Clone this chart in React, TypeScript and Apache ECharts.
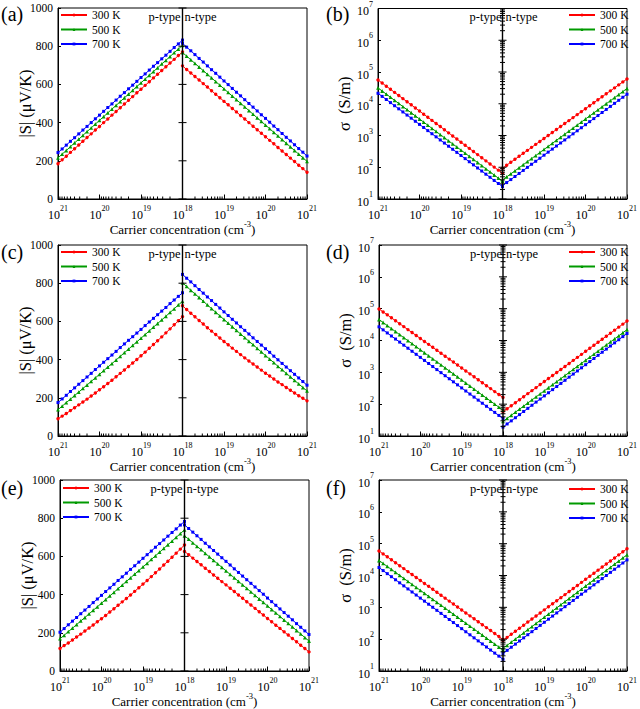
import React, { useEffect, useRef } from "react";
import * as echarts from "echarts";

const FONT = "Liberation Serif";

// log10 of carrier concentration (cm^-3) for every sampled point
const logConc = [18.0, 18.1, 18.2, 18.3, 18.4, 18.5, 18.6, 18.7, 18.8, 18.9, 19.0, 19.1, 19.2, 19.3, 19.4, 19.5, 19.6, 19.7, 19.8, 19.9, 20.0, 20.1, 20.2, 20.3, 20.4, 20.5, 20.6, 20.7, 20.8, 20.9, 21.0];
const xTickExponents = [21, 20, 19, 18, 19, 20, 21];
const sTicks = [0, 200, 400, 600, 800, 1000];
const sigmaTicks = [1e1, 1e2, 1e3, 1e4, 1e5, 1e6, 1e7];
const temps = ["300 K", "500 K", "700 K"];
const colors = ["#FF0000", "#009A00", "#0000FF"];
const symbols = ["circle", "triangle", "rect"];
const symbolSizes = [3.4, 3.8, 3];

// ---- Seebeck |S| (uV/K) ----
const sA_p300 = [770, 751, 731, 712, 692, 673, 653, 634, 614, 595, 575, 556, 536, 517, 497, 478, 458, 439, 419, 400, 380, 361, 341, 322, 302, 283, 263, 244, 224, 205, 185];
const sA_p500 = [805, 785, 766, 746, 726, 707, 687, 667, 648, 628, 608, 589, 569, 549, 530, 510, 490, 471, 451, 431, 412, 392, 372, 353, 333, 313, 294, 274, 254, 235, 215];
const sA_p700 = [832, 812, 793, 773, 753, 734, 714, 695, 675, 655, 636, 616, 596, 577, 557, 538, 518, 498, 479, 459, 439, 420, 400, 380, 361, 341, 321, 302, 282, 262, 243];
const sA_n300 = [697, 678, 660, 641, 623, 604, 586, 567, 548, 530, 511, 493, 474, 456, 437, 419, 400, 381, 363, 344, 326, 307, 289, 270, 251, 233, 214, 196, 177, 159, 140];
const sA_n500 = [767, 748, 729, 710, 691, 672, 653, 634, 615, 596, 577, 558, 539, 520, 501, 482, 463, 444, 425, 406, 387, 368, 349, 330, 311, 292, 273, 254, 235, 216, 197];
const sA_n700 = [815, 795, 776, 756, 736, 717, 697, 677, 658, 638, 618, 599, 579, 559, 540, 520, 500, 481, 461, 441, 422, 402, 382, 363, 343, 323, 304, 284, 264, 245, 225];

const sC_p300 = [625, 603, 582, 561, 540, 519, 499, 479, 459, 439, 420, 401, 382, 364, 346, 328, 310, 292, 275, 258, 242, 225, 209, 193, 178, 163, 148, 133, 118, 104, 90];
const sC_p500 = [705, 686, 666, 647, 627, 608, 589, 570, 550, 531, 512, 493, 474, 455, 436, 417, 398, 379, 361, 342, 323, 304, 286, 267, 249, 230, 212, 193, 175, 156, 138];
const sC_p700 = [750, 731, 712, 693, 673, 654, 635, 616, 597, 578, 558, 539, 520, 501, 482, 463, 443, 424, 405, 386, 367, 348, 328, 309, 290, 271, 252, 233, 213, 194, 175];
const sC_n300 = [682, 662, 643, 624, 605, 586, 567, 549, 531, 513, 495, 478, 460, 443, 426, 409, 393, 377, 361, 345, 329, 314, 298, 283, 269, 254, 240, 225, 211, 198, 184];
const sC_n500 = [802, 783, 763, 744, 725, 706, 686, 667, 648, 629, 610, 591, 572, 553, 534, 515, 496, 478, 459, 440, 421, 403, 384, 365, 347, 328, 310, 291, 273, 254, 236];
const sC_n700 = [846, 826, 807, 787, 767, 748, 728, 709, 689, 670, 650, 631, 611, 592, 572, 553, 534, 514, 495, 476, 457, 438, 418, 399, 380, 361, 342, 323, 304, 285, 266];

const sE_p300 = [660, 638, 617, 596, 575, 555, 534, 514, 494, 474, 455, 436, 417, 398, 380, 362, 344, 326, 309, 291, 274, 258, 241, 225, 209, 193, 178, 162, 147, 133, 118];
const sE_p500 = [739, 719, 700, 680, 661, 642, 622, 603, 584, 564, 545, 526, 507, 488, 469, 450, 431, 412, 393, 374, 355, 336, 318, 299, 280, 262, 243, 224, 206, 187, 169];
const sE_p700 = [783, 764, 744, 725, 706, 686, 667, 648, 628, 609, 590, 570, 551, 532, 512, 493, 474, 454, 435, 416, 396, 377, 358, 338, 319, 300, 280, 261, 242, 222, 203];
const sE_n300 = [626, 609, 591, 573, 556, 538, 521, 503, 486, 468, 451, 433, 416, 398, 381, 363, 346, 328, 310, 293, 275, 258, 240, 223, 205, 188, 170, 153, 135, 118, 100];
const sE_n500 = [708, 690, 671, 653, 635, 616, 598, 579, 561, 543, 524, 506, 488, 469, 451, 433, 414, 396, 377, 359, 341, 322, 304, 286, 267, 249, 231, 212, 194, 175, 157];
const sE_n700 = [765, 746, 727, 708, 689, 669, 650, 631, 612, 593, 574, 555, 535, 516, 497, 478, 459, 440, 421, 402, 382, 363, 344, 325, 306, 287, 268, 248, 229, 210, 191];

// ---- Electrical conductivity sigma (S/m) ----
const gB_p300 = [65, 81, 101, 127, 159, 200, 250, 313, 393, 492, 617, 773, 968, 1210, 1520, 1910, 2390, 2990, 3750, 4700, 5890, 7380, 9250, 11600, 14500, 18200, 22800, 28600, 35800, 44900, 56200];
const gB_p500 = [36.5, 45.5, 57, 71.4, 89.4, 112, 141, 176, 221, 277, 347, 434, 544, 680, 855, 1070, 1340, 1680, 2110, 2640, 3310, 4150, 5200, 6510, 8160, 10230, 12810, 16070, 20120, 25230, 31580];
const gB_p700 = [24.7, 30.8, 38.4, 48.3, 60.4, 76, 95, 119, 149, 187, 234, 294, 368, 460, 578, 724, 907, 1137, 1425, 1786, 2237, 2804, 3514, 4404, 5518, 6916, 8664, 10860, 13610, 17050, 21370];
const gB_n300 = [93, 116, 144, 178, 221, 275, 340, 423, 525, 650, 807, 1000, 1242, 1542, 1914, 2377, 2944, 3656, 4539, 5636, 6982, 8670, 10740, 13340, 16560, 20560, 25470, 31620, 39260, 48750, 60390];
const gB_n500 = [39.8, 49.7, 61.9, 77.3, 96.4, 120, 150, 187, 233, 291, 363, 453, 565, 705, 879, 1096, 1368, 1706, 2128, 2655, 3311, 4130, 5152, 6427, 8017, 10000, 12470, 15560, 19410, 24210, 30200];
const gB_n700 = [26.3, 32.9, 40.9, 51.1, 63.7, 79.4, 99.1, 124, 154, 192, 240, 299, 373, 466, 581, 724, 904, 1128, 1407, 1755, 2189, 2730, 3405, 4248, 5299, 6610, 8243, 10290, 12830, 16000, 19960];

const gD_p300 = [162, 201, 248, 308, 381, 472, 583, 723, 895, 1107, 1371, 1698, 2099, 2600, 3221, 3990, 4932, 6109, 7568, 9354, 11590, 14350, 17740, 21980, 27230, 33730, 41690, 51640, 63970, 79070, 97950];
const gD_p500 = [64.6, 80.4, 100, 124.5, 154.9, 192.8, 239.9, 298.5, 371.5, 462.4, 575.4, 716.1, 891.3, 1109, 1380, 1718, 2138, 2661, 3311, 4121, 5129, 6383, 7943, 9886, 12300, 15310, 19050, 23710, 29510, 36730, 45710];
const gD_p700 = [35.5, 44.3, 55.2, 68.9, 85.9, 107, 134, 167, 208, 259, 324, 404, 503, 628, 783, 977, 1219, 1520, 1896, 2366, 2950, 3680, 4590, 5726, 7143, 8910, 11110, 13860, 17290, 21570, 26910];
const gD_n300 = [57.6, 71.6, 89.1, 111, 138, 172, 214, 266, 331, 412, 513, 638, 794, 988, 1230, 1531, 1905, 2371, 2950, 3672, 4570, 5687, 7077, 8808, 10960, 13640, 16970, 21130, 26290, 32730, 40730];
const gD_n500 = [28.8, 36, 44.8, 56, 69.8, 87, 109, 136, 169, 211, 263, 328, 409, 510, 636, 794, 990, 1235, 1541, 1922, 2397, 2990, 3730, 4653, 5804, 7240, 9028, 11270, 14050, 17530, 21860];
const gD_n700 = [19.1, 23.9, 29.9, 37.5, 47, 58.9, 73.8, 92.4, 116, 145, 182, 228, 286, 358, 449, 562, 705, 883, 1106, 1386, 1737, 2177, 2728, 3419, 4283, 5369, 6726, 8431, 10560, 13240, 16590];

const gF_p300 = [97.7, 121, 150, 186, 230, 285, 352, 436, 540, 668, 827, 1024, 1266, 1568, 1942, 2406, 2974, 3684, 4564, 5640, 6989, 8653, 10700, 13250, 16420, 20340, 25140, 31140, 38570, 47680, 59060];
const gF_p500 = [45.7, 56.8, 70.3, 87.3, 108, 135, 167, 207, 257, 319, 395, 490, 609, 756, 938, 1165, 1443, 1791, 2224, 2762, 3421, 4248, 5263, 6537, 8114, 10070, 12480, 15490, 19240, 23890, 29590];
const gF_p700 = [23.4, 29.3, 36.5, 45.5, 56.8, 70.8, 88.3, 110, 137, 171, 214, 267, 333, 415, 518, 646, 806, 1005, 1253, 1564, 1950, 2433, 3035, 3786, 4722, 5890, 7345, 9165, 11430, 14260, 17790];
const gF_n300 = [91.2, 114, 142, 177, 221, 275, 344, 429, 535, 667, 832, 1038, 1294, 1615, 2014, 2511, 3134, 3908, 4875, 6083, 7586, 9462, 11800, 14720, 18370, 22910, 28570, 35650, 44470, 55460, 69190];
const gF_n500 = [51.3, 64.2, 80.5, 101, 126, 158, 199, 249, 312, 391, 490, 614, 769, 963, 1208, 1513, 1896, 2376, 2978, 3731, 4675, 5859, 7342, 9202, 11530, 14450, 18100, 22690, 28430, 35630, 44650];
const gF_n700 = [35.5, 44.5, 55.8, 69.9, 87.6, 110, 138, 172, 216, 271, 339, 425, 532, 667, 837, 1048, 1313, 1646, 2063, 2584, 3238, 4058, 5086, 6375, 7986, 10010, 12540, 15720, 19700, 24680, 30930];

type Panel = {
  tag: string;
  kind: "S" | "sigma";
  p: number[][];
  n: number[][];
  box: [number, number, number, number];
  legendPos: [number, number];
  tagPos: [number, number];
};

const panels: Panel[] = [
  { tag: "(a)", kind: "S", p: [sA_p300, sA_p500, sA_p700], n: [sA_n300, sA_n500, sA_n700], box: [58, 8, 249, 191], legendPos: [60, 9], tagPos: [1, 14] },
  { tag: "(b)", kind: "sigma", p: [gB_p300, gB_p500, gB_p700], n: [gB_n300, gB_n500, gB_n700], box: [378, 8, 251, 191], legendPos: [568, 9], tagPos: [326, 14] },
  { tag: "(c)", kind: "S", p: [sC_p300, sC_p500, sC_p700], n: [sC_n300, sC_n500, sC_n700], box: [58, 245, 249, 191], legendPos: [60, 246], tagPos: [1, 252] },
  { tag: "(d)", kind: "sigma", p: [gD_p300, gD_p500, gD_p700], n: [gD_n300, gD_n500, gD_n700], box: [379, 245, 250, 191], legendPos: [568, 246], tagPos: [326, 252] },
  { tag: "(e)", kind: "S", p: [sE_p300, sE_p500, sE_p700], n: [sE_n300, sE_n500, sE_n700], box: [60, 480, 249, 192], legendPos: [62, 482], tagPos: [1, 488] },
  { tag: "(f)", kind: "sigma", p: [gF_p300, gF_p500, gF_p700], n: [gF_n300, gF_n500, gF_n700], box: [379, 480, 250, 192], legendPos: [568, 483], tagPos: [326, 488] },
];

const supRich = {
  b: { fontSize: 12, fontFamily: FONT, color: "#000", lineHeight: 17, verticalAlign: "bottom" },
  s: { fontSize: 8, fontFamily: FONT, color: "#000", lineHeight: 8, verticalAlign: "top" },
};

function decoSeries(i: number, isLog: boolean) {
  const yMin = isLog ? sigmaTicks[0] : sTicks[0];
  const yMax = isLog ? sigmaTicks[sigmaTicks.length - 1] : sTicks[sTicks.length - 1];
  return {
    type: "custom",
    xAxisIndex: i,
    yAxisIndex: i,
    silent: true,
    z: 10,
    data: [[0, isLog ? 100 : 500]],
    renderItem: (_params: any, api: any) => {
      const children: any[] = [];
      const seg = (x1: number, y1: number, x2: number, y2: number, w = 1) =>
        children.push({ type: "line", shape: { x1, y1, x2, y2 }, style: { stroke: "#000", lineWidth: w } });
      const t = api.coord([0, yMax]);
      const b = api.coord([0, yMin]);
      seg(t[0], t[1], b[0], b[1], 1.4);
      const majors = isLog ? sigmaTicks : sTicks;
      majors.forEach((v) => {
        const p = api.coord([0, v]);
        seg(p[0] - 4, p[1], p[0] + 4, p[1]);
      });
      if (isLog) {
        for (let d = 0; d < sigmaTicks.length - 1; d++) {
          for (let k = 2; k <= 9; k++) {
            const p = api.coord([0, sigmaTicks[d] * k]);
            seg(p[0] - 2.5, p[1], p[0] + 2.5, p[1]);
          }
        }
      }
      for (let d = 18; d < 21; d++) {
        for (let k = 2; k <= 9; k++) {
          const L = d + Math.log10(k);
          [18 - L, L - 18].forEach((x) => {
            const p = api.coord([x, yMin]);
            seg(p[0], p[1], p[0], p[1] - 2.5);
          });
        }
      }
      return { type: "group", children };
    },
  };
}

export default function App() {
  const ref = useRef<HTMLDivElement>(null);
  useEffect(() => {
    if (!ref.current) return;
    const chart = echarts.init(ref.current, null, { renderer: "svg" });
    const grids: any[] = [];
    const xAxes: any[] = [];
    const yAxes: any[] = [];
    const series: any[] = [];
    const legends: any[] = [];
    const graphics: any[] = [];

    panels.forEach((pn, i) => {
      const [left, top, width, height] = pn.box;
      const isLog = pn.kind === "sigma";
      grids.push({ left, top, width, height, show: true, borderColor: "#000", borderWidth: 1, backgroundColor: "transparent" });
      xAxes.push({
        type: "value",
        gridIndex: i,
        min: -3,
        max: 3,
        interval: 1,
        axisLine: { onZero: false, lineStyle: { color: "#000", width: 1 } },
        axisTick: { inside: true, length: 4.5, lineStyle: { color: "#000" } },
        splitLine: { show: false },
        axisLabel: {
          margin: 5,
          formatter: (v: number) => `{b|10}{s|${xTickExponents[Math.round(v) + 3]}}`,
          rich: supRich,
        },
        name: "{n|Carrier concentration (cm}{s|-3}{n|)}",
        nameLocation: "middle",
        nameGap: 20,
        nameMoveOverlap: false,
        nameTextStyle: {
          rich: {
            n: { fontSize: 13, fontFamily: FONT, color: "#000", lineHeight: 17, verticalAlign: "bottom" },
            s: { fontSize: 8.5, fontFamily: FONT, color: "#000", lineHeight: 8, verticalAlign: "top" },
          },
        },
      });
      if (isLog) {
        yAxes.push({
          type: "log",
          gridIndex: i,
          logBase: 10,
          min: sigmaTicks[0],
          max: sigmaTicks[sigmaTicks.length - 1],
          splitNumber: 6,
          axisLine: { onZero: false, lineStyle: { color: "#000", width: 1 } },
          axisTick: { inside: true, length: 3, lineStyle: { color: "#000" } },
          splitLine: { show: false },
          axisLabel: {
            margin: 5,
            formatter: (v: number) => `{b|10}{s|${Math.round(Math.log10(v))}}`,
            rich: supRich,
          },
          name: "σ  (S/m)",
          nameLocation: "middle",
          nameGap: 25,
          nameMoveOverlap: false,
          nameTextStyle: { fontSize: 16.5, fontFamily: FONT, color: "#000" },
        });
      } else {
        yAxes.push({
          type: "value",
          gridIndex: i,
          min: 0,
          max: 1000,
          interval: 200,
          axisLine: { onZero: false, lineStyle: { color: "#000", width: 1 } },
          axisTick: { inside: true, length: 3, lineStyle: { color: "#000" } },
          splitLine: { show: false },
          axisLabel: { margin: 5, fontSize: 11.5, fontFamily: FONT, color: "#000", formatter: (v: number) => String(v) },
          name: "|S| (μV/K)",
          nameLocation: "middle",
          nameGap: 24,
          nameMoveOverlap: false,
          nameTextStyle: { fontSize: 16.5, fontFamily: FONT, color: "#000" },
        });
      }
      temps.forEach((name, t) => {
        const common = {
          type: "line",
          name,
          xAxisIndex: i,
          yAxisIndex: i,
          symbol: symbols[t],
          symbolSize: symbolSizes[t],
          showSymbol: true,
          silent: true,
          z: 2,
          itemStyle: { color: colors[t] },
          lineStyle: { color: colors[t], width: 1 },
        };
        series.push({ ...common, data: logConc.map((L, k) => [18 - L, pn.p[t][k]]) });
        series.push({ ...common, data: logConc.map((L, k) => [L - 18, pn.n[t][k]]) });
      });
      series.push(decoSeries(i, isLog));
      legends.push({
        data: temps,
        orient: "vertical",
        left: pn.legendPos[0],
        top: pn.legendPos[1],
        padding: 0,
        itemWidth: 26,
        itemHeight: 3.5,
        itemGap: 2.5,
        selectedMode: false,
        textStyle: { fontSize: 11.5, fontFamily: FONT, color: "#000" },
      });
      const mid = left + width / 2;
      graphics.push(
        { type: "text", x: pn.tagPos[0], y: pn.tagPos[1], style: { text: pn.tag, fontSize: 20, fontFamily: FONT, fill: "#000", align: "left", verticalAlign: "middle" } },
        { type: "text", x: mid - 2, y: top + 8.5, style: { text: "p-type", fontSize: 12.5, fontFamily: FONT, fill: "#000", align: "right", verticalAlign: "middle" } },
        { type: "text", x: mid + 2, y: top + 8.5, style: { text: "n-type", fontSize: 12.5, fontFamily: FONT, fill: "#000", align: "left", verticalAlign: "middle" } }
      );
    });

    chart.setOption({
      animation: false,
      backgroundColor: "#fff",
      textStyle: { fontFamily: FONT },
      grid: grids,
      xAxis: xAxes,
      yAxis: yAxes,
      legend: legends,
      series,
      graphic: graphics,
    });
    return () => chart.dispose();
  }, []);
  return <div ref={ref} style={{ position: "absolute", left: 0, top: 0, width: 640, height: 709 }} />;
}
